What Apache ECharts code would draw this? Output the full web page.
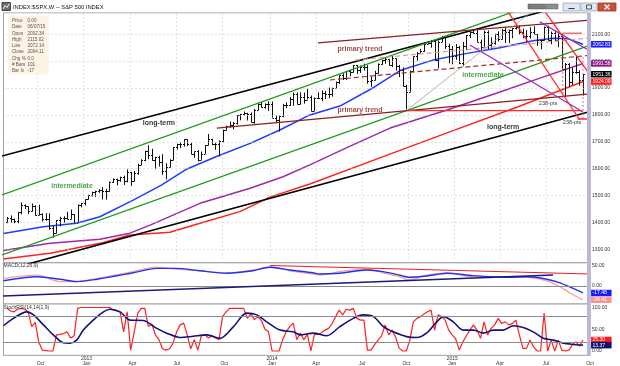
<!DOCTYPE html>
<html><head><meta charset="utf-8">
<script src="https://cdn.jsdelivr.net/npm/echarts@6/dist/echarts.min.js"></script>
<style>html,body{margin:0;padding:0;background:#fff}#c{width:620px;height:366px}</style>
</head><body><div id="c"></div>
<script>
const FONT = '"Liberation Sans", Arial, sans-serif';

// ---- weekly OHLC, week 0 = week ending 17 Aug 2012 ----
const open = [1402,1418,1411,1407,1438,1466,1460,1441,1461,1428,
1433,1412,1414,1380,1360,1409,1416,1418,1413,1430,
1402,1466,1472,1486,1503,1513,1518,1520,1516,1518,
1551,1561,1556,1569,1553,1588,1555,1582,1614,1633,
1667,1650,1631,1643,1626,1593,1606,1632,1680,1692,
1691,1709,1691,1655,1664,1633,1655,1688,1710,1691,
1690,1703,1745,1759,1762,1771,1798,1804,1806,1805,
1775,1818,1841,1831,1842,1839,1790,1782,1797,1838,
1836,1859,1878,1841,1866,1857,1865,1815,1864,1863,
1881,1878,1878,1900,1924,1949,1936,1963,1961,1985,
1968,1978,1978,1925,1931,1955,1988,2003,2008,1985,
2010,1982,1967,1906,1886,1964,2018,2032,2039,2064,
2068,2075,2003,2071,2089,2058,2045,2019,2051,1995,
2055,2097,2110,2104,2071,2053,2108,2061,2067,2102,
2081,2117,2108,2116,2123,2126,2107,2092,2094,2110,
2101,2077,2077,2127,2079,2104,2078,2092,1971,1989,
1921,1961,1958,1931];
const high = [1420,1426,1414,1438,1474,1467,1460,1470,1464,1466,
1434,1434,1434,1388,1409,1421,1423,1439,1448,1431,
1467,1473,1486,1503,1514,1518,1524,1531,1525,1552,
1564,1563,1570,1574,1597,1588,1592,1618,1635,1667,
1687,1674,1644,1648,1654,1620,1635,1681,1693,1698,
1710,1709,1696,1664,1669,1664,1688,1729,1711,1696,
1705,1745,1760,1775,1774,1798,1804,1813,1808,1809,
1823,1844,1849,1843,1851,1850,1798,1798,1841,1847,
1867,1883,1883,1884,1883,1897,1872,1865,1884,1891,
1889,1902,1901,1924,1949,1955,1964,1968,1985,1986,
1984,1991,1985,1942,1964,1992,2005,2012,2008,2019,
2010,1986,1977,1912,1965,2018,2034,2046,2071,2075,
2079,2075,2077,2094,2093,2065,2056,2064,2057,2072,
2097,2111,2119,2117,2080,2114,2114,2089,2102,2111,
2120,2126,2117,2123,2134,2133,2121,2116,2126,2130,
2101,2079,2129,2132,2110,2113,2103,2103,1993,1993,
1976,2021,1966,1952];
const low = [1397,1398,1397,1397,1430,1450,1431,1440,1425,1427,
1403,1406,1373,1343,1360,1385,1398,1412,1412,1398,
1402,1456,1463,1485,1496,1495,1510,1485,1485,1514,
1548,1538,1551,1539,1549,1536,1553,1577,1613,1628,
1635,1630,1598,1608,1577,1560,1605,1632,1671,1676,
1682,1684,1654,1640,1627,1633,1655,1687,1687,1670,
1646,1699,1743,1752,1746,1764,1780,1798,1779,1772,
1767,1818,1827,1823,1815,1790,1770,1738,1791,1825,
1834,1834,1839,1839,1842,1857,1814,1815,1859,1851,
1859,1862,1868,1899,1915,1930,1930,1944,1958,1952,
1956,1965,1916,1905,1929,1954,1987,1990,1984,1978,
1965,1941,1906,1821,1886,1961,2001,2030,2034,2064,
2050,2002,1973,2071,2046,1992,1988,2005,1989,1981,
2041,2086,2103,2071,2039,2053,2045,2046,2062,2073,
2081,2068,2067,2085,2118,2099,2085,2072,2084,2101,
2057,2044,2077,2077,2063,2075,2052,1971,1867,1903,
1911,1953,1909,1872];
const close = [1418,1411,1407,1438,1466,1460,1441,1461,1428,1433,
1412,1414,1380,1360,1409,1416,1418,1413,1430,1402,
1466,1472,1486,1503,1513,1518,1520,1516,1518,1551,
1561,1556,1569,1553,1588,1555,1582,1614,1633,1667,
1650,1631,1643,1626,1593,1606,1632,1680,1692,1691,
1709,1691,1655,1664,1633,1655,1688,1710,1691,1690,
1703,1745,1759,1762,1771,1798,1804,1806,1805,1775,
1818,1841,1831,1842,1839,1790,1782,1797,1838,1836,
1859,1878,1841,1866,1857,1865,1815,1864,1863,1881,
1878,1878,1900,1924,1949,1936,1963,1961,1985,1968,
1978,1978,1925,1931,1955,1988,2003,2008,1985,2010,
1982,1967,1906,1886,1964,2018,2032,2039,2064,2068,
2075,2003,2071,2089,2058,2045,2019,2051,1995,2055,
2097,2110,2104,2071,2053,2108,2061,2067,2102,2081,
2117,2108,2116,2123,2126,2107,2092,2094,2110,2101,
2077,2077,2127,2079,2104,2078,2092,1971,1989,1921,
1961,1958,1931,1951.36];

// ---- moving averages: [week, price] ----
const blueMA = [[-1,1359],[10.3,1384],[19.7,1397],[26.3,1421],[35.7,1483],[43.7,1539],[50.8,1598],[59.3,1645],[68.8,1694],[77.2,1744],[85.7,1800],[94.2,1833],[103.9,1903],[111.2,1965],[120.5,2004],[130.2,2029],[139.5,2050],[148.8,2076],[154.5,2085],[158.8,2083],[163,2062.83]];
const purpleMA = [[-1,1295],[12.2,1322],[26.3,1337],[34.8,1360],[40.5,1390],[54.6,1471],[68.8,1527],[78.1,1570],[85.7,1614],[97.1,1684],[108.4,1751],[124.5,1818],[139.5,1885],[150.8,1937],[163,1991.58]];
const redMA = [[-1,1264],[12.2,1285],[26.3,1322],[34.8,1353],[46.1,1363],[54.6,1397],[65.9,1440],[74.4,1494],[85.7,1543],[105.5,1640],[124.5,1733],[145.2,1833],[163,1924.09]];

// ---- drawn trendlines: [[week, price],[week, price]] ----
const trendCoords = [
  [[-1.4,1647],[165,2232]],   // long-term upper (black)
  [[-1.4,1219],[165,1813]],   // long-term lower (black)
  [[-1.4,1502],[165,2286]],   // intermediate upper (green)
  [[-1.4,1279],[165,2060]],   // intermediate lower (green)
  [[88,2068],[165,2153]],     // primary trend upper
  [[59.4,1751],[165,1878]],   // primary trend lower
  [[91.4,1930],[165.8,2023]], // primary mid dashed
  [[98.5,2004],[165,2086]],   // primary mid dashed light
  [[131,2060],[163,1811]],    // purple down
  [[150.8,2146],[165,2038]],  // purple down 2
  [[113.2,1818],[150,2200]],  // grey
  [[113.5,1816],[162.7,1816]],// red flat
  [[140,2219],[162.1,1781]],  // red down A
  [[151,2207],[165,1949]],    // red down B
  [[157.3,2079],[157.3,1863]],// red dotted vertical
  [[163,2016],[163,1781]],    // red dotted vertical
  [[157.3,2104],[162.7,2104]],// red target
  [[161.5,1785],[165,1785]]   // red target
];
const trendStyles = [
  {c:'#000',w:1.6},{c:'#000',w:1.6},{c:'#1f9a1f',w:1.3},{c:'#1f9a1f',w:1.3},
  {c:'#8b1e1e',w:1.3},{c:'#8b1e1e',w:1.3},{c:'#9b3030',w:1.2,t:[5,3]},{c:'#d8a0a0',w:1.2,t:[5,3]},
  {c:'#9a30b8',w:1.3},{c:'#9a30b8',w:1.3},{c:'#a0a0a0',w:0.8},{c:'#ff2a2a',w:1.3},
  {c:'#ff2a2a',w:1.3},{c:'#ff2a2a',w:1.3},{c:'#e04040',w:0.8,t:[2,2]},{c:'#e04040',w:0.8,t:[2,2]},
  {c:'#f07070',w:1.6},{c:'#ff3030',w:1.4}
];

// ---- annotations ----
const noteText = ['primary trend','primary trend','intermediate','intermediate','long-term','long-term','238-pts','238-pts'];
const notePos = [[99.9,2045],[99.9,1818],[134.7,1949],[18.4,1536],[43,1770],[140.4,1755],[153.1,1844],[159.9,1770]];
const noteStyle = [{c:'#8b1a1a',b:1},{c:'#8b1a1a',b:1},{c:'#1f8c1f',b:1},{c:'#1f8c1f',b:1},{c:'#000',b:1},{c:'#000',b:1},{c:'#000',b:0},{c:'#000',b:0}];

// ---- MACD (12,26,9) ----
const macdLine = [[-1,19],[8.5,27],[15,11],[19.8,11],[25.5,19],[35.7,36],[42.4,47],[48.1,42],[54.6,38],[62.3,33],[69.6,40],[74.4,48],[80.1,38],[86.6,30],[88.6,27],[94.2,36],[101.9,42],[106.4,33],[111.2,23],[113.5,15],[118.8,27],[124.5,33],[131.9,23],[141.5,23],[147.1,22],[152.8,13],[156.5,-2],[160.2,-22],[163,-34.41]];
const macdSignal = [[-1,13],[8.5,23],[15,17],[19.8,11],[25.5,17],[35.7,33],[42.4,44],[48.1,44],[54.6,38],[62.3,32],[69.6,38],[74.4,47],[80.1,40],[86.6,33],[88.6,30],[94.2,32],[101.9,40],[106.4,36],[111.2,27],[113.5,22],[118.8,25],[124.5,32],[131.9,26],[141.5,22],[147.1,23],[152.8,17],[156.5,8],[160.2,-6],[163,-17.48]];
const macdTrendRed = [[74.4,51.3],[165,30]];
const macdTrendNavy = [[-1.1,-25],[154.5,27.5]];

// ---- StochRSI ----
const stochFast = [98,92,90,96,98,96,90,56,66,20,
2,1,0,0,37,38,40,44,30,35,
98,100,100,100,100,100,100,100,100,100,
95,92,90,44,90,2,44,87,98,98,
56,62,37,26,5,2,5,18,44,60,
64,37,5,26,2,35,37,30,35,30,
26,79,90,98,98,98,98,98,75,85,
72,79,70,50,44,0,0,0,26,44,
56,64,26,41,26,38,0,38,38,42,
48,52,63,79,94,83,96,94,98,75,
71,71,2,2,14,25,35,60,37,48,
31,6,0,0,25,67,75,79,85,90,
94,48,83,79,71,48,37,27,2,21,
35,48,60,48,29,67,37,52,60,75,
63,67,60,63,71,37,6,6,25,10,
0,0,87,0,25,0,25,2,0,2,
14,21,11,25.3];
const stochSlow = [[-1,58],[1.8,75],[5.6,90],[7.5,83],[10.3,60],[13.1,37],[15.9,19],[17.8,18],[19.7,25],[21.6,48],[24.4,71],[27.3,90],[29.2,96],[32,90],[34.8,71],[38.6,70],[42.4,52],[45.2,41],[49,31],[52.7,34],[56.5,37],[60.3,29],[64.1,56],[67.8,87],[70.7,83],[73.5,67],[77.3,48],[81,44],[82.9,37],[86.7,41],[90.5,35],[94.2,56],[98,75],[100.8,83],[103.7,79],[106.5,56],[109.3,44],[113.1,33],[115.9,31],[118.7,41],[121.6,67],[123.5,79],[126.3,67],[129.1,48],[132,48],[134.8,41],[137.6,48],[140.4,48],[143.3,58],[146.1,54],[148.9,44],[151.8,29],[154.6,25],[157.4,18],[160.3,15],[163,13.37]];

// ---- axis labels / levels ----
const priceTicks = [1300,1400,1500,1600,1700,1800,1900,2000,2100];
const macdTicks = [0,50];
const stochTicks = [0,50,100];
const stochLevels = [20,80];
const tickWeeks = [9.5,22.5,35.5,48,61.5,75,87.5,100.5,113,126,139.5,152.5,165];
const tickLabels = ['Oct','2013\nJan','Apr','Jul','Oct','2014\nJan','Apr','Jul','Oct','2015\nJan','Apr','Jul','Oct'];
const quarterWeeks = [8.5,21.5,35,48,61,74.5,87.5,100.5,113.5,126.5,139.5,152.5];
const mainLast = [2062.83,1991.58,1951.36,1924.09];
const mainLastColor = ['#1a1aff','#8a1a8a','#000000','#ff1a1a'];
const macdLast = [-17.48,-34.41];
const macdLastColor = ['#1a1aff','#f59595'];
const stochLast = [25.30,13.37];
const stochLastColor = ['#ff1a1a','#10106e'];
const infoLabels = ['Price','Date','Open','High','Low','Close','Chg %','# Bars','Bar Ix'];
const infoValues = ['0.00','06/07/15','2092.34','2115.02','2072.14','2094.11','0.0','101','-17'];

const chart = echarts.init(document.getElementById('c'), null, {renderer:'canvas', width:620, height:366});

const L = 3.466, W = 586.6;
const gridBase = {left:L, width:W, show:true, borderColor:'#a0a0a0', borderWidth:1, backgroundColor:'#fff', containLabel:false, outerBoundsMode:'none'};

function boxLabel(v, color, dec){
  return {yAxis:v, lineStyle:{color:'rgba(0,0,0,0)', width:1, type:'solid'}, label:{show:true, position:'end', distance:1,
    formatter: v.toFixed(dec), color:'#fff', backgroundColor:color, fontSize:5, lineHeight:5.5,
    padding:[0.5,1,0.5,1.5], width:18, fontFamily:FONT, opacity:1}};
}
function lastMarks(vals, cols){ return vals.map((v,i)=>boxLabel(v, cols[i], 2)); }

const series = [];

// grid dotted lines on the main panel
series.push({type:'line', xAxisIndex:0, yAxisIndex:0, data:redMA, symbol:'none', z:3,
  lineStyle:{color:'#ff2020', width:1.5}, silent:true,
  markLine:{silent:true, symbol:['none','none'], animation:false, label:{show:false},
    data:[
      ...priceTicks.map(v=>({yAxis:v, lineStyle:{color:'#c4c4c4', width:1, type:[1,3]}, label:{show:false}})),
      ...quarterWeeks.map(w=>({xAxis:w, lineStyle:{color:'#c4c4c4', width:1, type:[1,3]}, label:{show:false}}))
    ]}
});
series.push({type:'line', xAxisIndex:0, yAxisIndex:0, data:purpleMA, symbol:'none', z:3, lineStyle:{color:'#9a2aa8', width:1.5}, silent:true});
series.push({type:'line', xAxisIndex:0, yAxisIndex:0, data:blueMA, symbol:'none', z:3, lineStyle:{color:'#1f3bff', width:1.5}, silent:true,
  markLine:{silent:true, symbol:['none','none'], animation:false, z:20, data: lastMarks(mainLast, mainLastColor)}});

// OHLC bars
series.push({type:'custom', xAxisIndex:0, yAxisIndex:0, z:4, silent:true, clip:true,
  data: close.map((c,i)=>[i, open[i], high[i], low[i], c]),
  encode:{x:0, y:[1,2,3,4]},
  renderItem(params, api){
    const i = api.value(0);
    const o = api.coord([i, api.value(1)]);
    const h = api.coord([i, api.value(2)]);
    const l = api.coord([i, api.value(3)]);
    const c = api.coord([i, api.value(4)]);
    const x = Math.round(o[0]) + 0.5;
    const oy = Math.round(o[1]) + 0.5, cy = Math.round(c[1]) + 0.5;
    const st = {stroke:'#111', lineWidth:1};
    return {type:'group', children:[
      {type:'line', shape:{x1:x, y1:h[1], x2:x, y2:l[1]}, style:st},
      {type:'line', shape:{x1:x-1.5, y1:oy, x2:x, y2:oy}, style:st},
      {type:'line', shape:{x1:x, y1:cy, x2:x+1.5, y2:cy}, style:st}
    ]};
  }
});

// trendlines
trendCoords.forEach((pts, k)=>{
  const s = trendStyles[k];
  series.push({type:'line', xAxisIndex:0, yAxisIndex:0, data:pts, symbol:'none', z:5, silent:true, clip:true,
    lineStyle:{color:s.c, width:s.w, type:s.t || 'solid'}});
});

// annotations
series.push({type:'scatter', xAxisIndex:0, yAxisIndex:0, symbolSize:0, z:6, silent:true,
  data: notePos.map((p,k)=>({value:p, label:{show:true, position:'inside', formatter:noteText[k],
    color:noteStyle[k].c, fontWeight:noteStyle[k].b ? 'bold':'normal', fontSize:noteStyle[k].b ? 7 : 5.5, fontFamily:FONT}}))
});

// MACD panel
series.push({type:'line', xAxisIndex:1, yAxisIndex:1, data:macdLine, symbol:'none', smooth:0.3, z:3, silent:true,
  lineStyle:{color:'#f7a0a0', width:1.3},
  markLine:{silent:true, symbol:['none','none'], animation:false, label:{show:false},
    data:[{yAxis:0, lineStyle:{color:'#8a8a8a', width:1, type:'solid'}, label:{show:false}}]}
});
series.push({type:'line', xAxisIndex:1, yAxisIndex:1, data:macdSignal, symbol:'none', smooth:0.3, z:4, silent:true, lineStyle:{color:'#2233ee', width:1.4},
  markLine:{silent:true, symbol:['none','none'], animation:false, z:20, data: lastMarks(macdLast, macdLastColor)}});
series.push({type:'line', xAxisIndex:1, yAxisIndex:1, data:macdTrendRed, symbol:'none', z:5, silent:true, lineStyle:{color:'#ee1a1a', width:1.2}});
series.push({type:'line', xAxisIndex:1, yAxisIndex:1, data:macdTrendNavy, symbol:'none', z:5, silent:true, lineStyle:{color:'#1a1a7a', width:1.4}});

// Stoch panel
series.push({type:'line', xAxisIndex:2, yAxisIndex:2, data:stochFast.map((v,i)=>[i,v]), symbol:'none', z:3, silent:true,
  lineStyle:{color:'#ff1f1f', width:1.2},
  markLine:{silent:true, symbol:['none','none'], animation:false, label:{show:false},
    data: stochLevels.map(v=>({yAxis:v, lineStyle:{color:'#8a8a8a', width:1, type:'solid'}, label:{show:false}}))}
});
series.push({type:'line', xAxisIndex:2, yAxisIndex:2, data:stochSlow, symbol:'none', smooth:0.3, z:4, silent:true, lineStyle:{color:'#12127a', width:1.6},
  markLine:{silent:true, symbol:['none','none'], animation:false, z:20, data: lastMarks(stochLast, stochLastColor)}});

const yLabel = (ticks) => ({margin:2, fontSize:5, color:'#333', fontFamily:FONT,
  formatter: v => ticks.some(t=>Math.abs(t-v)<1e-6) ? Number(v).toFixed(2) : ''});
const yBase = {type:'value', position:'right', axisLine:{show:false}, axisTick:{show:false}, splitLine:{show:false}};

const option = {
  animation:false,
  backgroundColor:'#ffffff',
  textStyle:{fontFamily:FONT},
  grid:[
    Object.assign({}, gridBase, {top:12.8, height:249.9}),
    Object.assign({}, gridBase, {top:262.8, height:41.2}),
    Object.assign({}, gridBase, {top:304, height:51.33})
  ],
  xAxis:[0,1,2].map(g=>Object.assign({type:'value', gridIndex:g, min:-1, max:165,
    axisLine:{show:false}, axisTick:{show:false}, splitLine:{show:false}},
    g===2 ? {interval:0.5, axisLabel:{show:true, margin:0.5, fontSize:5, lineHeight:5.5, color:'#333', fontFamily:FONT,
      formatter: v => { const k = tickWeeks.findIndex(w=>Math.abs(w-v)<1e-6); if(k<0) return ''; const t = tickLabels[k]; return t.indexOf('\n')>=0 ? t : '\n'+t; }}}
      : {axisLabel:{show:false}})),
  yAxis:[
    Object.assign({}, yBase, {gridIndex:0, min:1250, max:2180, interval:50, axisLabel:yLabel(priceTicks)}),
    Object.assign({}, yBase, {gridIndex:1, min:-45, max:58, interval:1, axisLabel:yLabel(macdTicks)}),
    Object.assign({}, yBase, {gridIndex:2, min:-10, max:108, interval:1, axisLabel:yLabel(stochTicks)})
  ],
  series: series,
  graphic: [
    {type:'rect', shape:{x:0,y:0,width:620,height:12.3}, style:{fill:'#ffffff'}, z:100},
    {type:'rect', shape:{x:2,y:2.5,width:8.5,height:8}, style:{fill:'#6c6c6c', stroke:'#2a2a2a', lineWidth:0.8}, z:101},
    {type:'polyline', shape:{points:[[3,9],[5,5.5],[7,7.5],[9.5,3.5]]}, style:{stroke:'#fff', lineWidth:1, fill:null}, z:102},
    {type:'text', x:13, y:7.2, style:{text:'INDEX:$SPX,W -- S&P 500 INDEX', fontSize:5.8, fontFamily:FONT, fill:'#111', verticalAlign:'middle'}, z:101},
    {type:'rect', shape:{x:528,y:4,width:16.5,height:5}, style:{fill:'#7e7e7e', stroke:'#555', lineWidth:0.5}, z:101},
    {type:'rect', shape:{x:545,y:4,width:13,height:5}, style:{fill:'#8e8e8e', stroke:'#555', lineWidth:0.5}, z:101},
    {type:'rect', shape:{x:563,y:3,width:17,height:8}, style:{fill:'#dfe7f1', stroke:'#98a8bf', lineWidth:0.8}, z:101},
    {type:'line', shape:{x1:568.5,y1:8.5,x2:574.5,y2:8.5}, style:{stroke:'#333', lineWidth:1}, z:102},
    {type:'rect', shape:{x:581,y:3,width:16,height:8}, style:{fill:'#dfe7f1', stroke:'#98a8bf', lineWidth:0.8}, z:101},
    {type:'rect', shape:{x:586.5,y:5,width:5,height:4}, style:{fill:null, stroke:'#333', lineWidth:0.8}, z:102},
    {type:'rect', shape:{x:598,y:3,width:18,height:8}, style:{fill:'#c9503f', stroke:'#9c3426', lineWidth:0.8}, z:101},
    {type:'line', shape:{x1:604.5,y1:4.5,x2:609.5,y2:9.5}, style:{stroke:'#fff', lineWidth:1.2}, z:102},
    {type:'line', shape:{x1:609.5,y1:4.5,x2:604.5,y2:9.5}, style:{stroke:'#fff', lineWidth:1.2}, z:102},
    {type:'rect', shape:{x:8,y:15.5,width:41,height:59}, style:{fill:'#fdf4e4'}, z:50},
    ...infoLabels.map((t,k)=>({type:'text', x:12, y:20.7+k*6.3, style:{text:t, fontSize:4.6, fontFamily:FONT, fill:'#555', verticalAlign:'middle'}, z:51})),
    ...infoValues.map((t,k)=>({type:'text', x:27.5, y:20.7+k*6.3, style:{text:t, fontSize:4.6, fontFamily:FONT, fill:'#555', verticalAlign:'middle'}, z:51})),
    {type:'rect', shape:{x:587,y:12.8,width:3.4,height:343}, style:{fill:'#b7b6dc'}, z:60},
    {type:'text', x:3.5, y:265.8, style:{text:'MACD(12,26,9)', fontSize:5, fontFamily:FONT, fill:'#333', verticalAlign:'middle'}, z:61},
    {type:'text', x:3.5, y:307.8, style:{text:'StochRSI(14,14(1,9)', fontSize:5, fontFamily:FONT, fill:'#333', verticalAlign:'middle'}, z:61}
  ]
};
chart.setOption(option);
</script>
</body></html>
